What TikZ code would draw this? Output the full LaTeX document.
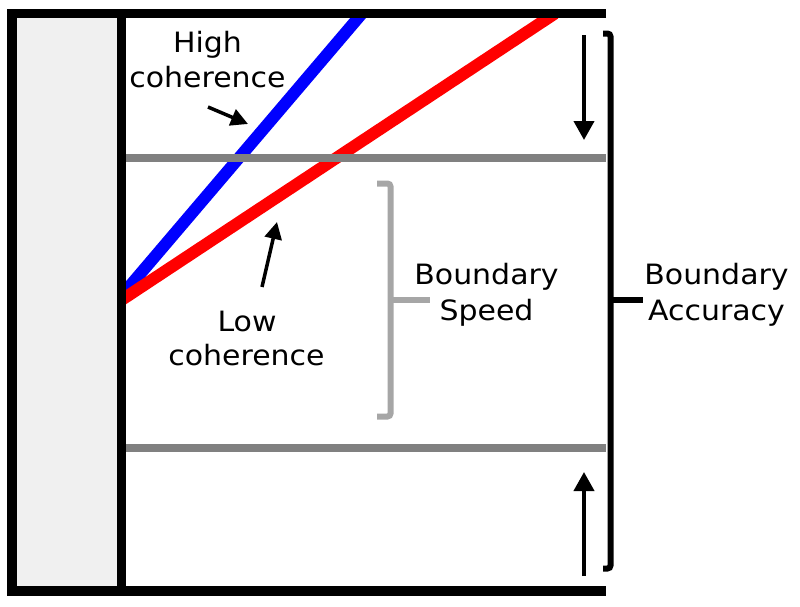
\documentclass[tikz,border=0pt]{standalone}
\usepackage{fontspec}
\setmainfont{DejaVu Sans}[FakeStretch=1.07]
\usetikzlibrary{arrows.meta}
\definecolor{panel}{HTML}{F0F0F0}
\definecolor{boundgray}{HTML}{808080}
\definecolor{brgray}{HTML}{A6A6A6}
\definecolor{hiblue}{HTML}{0000FF}
\definecolor{lored}{HTML}{FF0000}
\begin{document}
\begin{tikzpicture}[x=1pt,y=-1pt,
  frame/.style={line width=9.5pt,black},
  bound/.style={line width=8pt,boundgray},
  trace/.style={line width=12pt},
  lbl/.style={font=\fontsize{28}{35}\selectfont,inner sep=0pt,anchor=base},
  ptr/.style={line width=3.5pt,-{Triangle[length=17pt,width=17pt]}},
  vptr/.style={line width=4pt,-{Triangle[length=19pt,width=20pt]}},
  gbrack/.style={line width=6pt,brgray,rounded corners=3pt},
  bbrack/.style={line width=6pt,black,rounded corners=3pt}]
\fill[white] (0,0) rectangle (800,606);
\useasboundingbox (0,0) rectangle (800,606);
% left panel
\fill[panel] (16,18) rectangle (117,587);
% coherence traces
\coordinate (b0) at (121.5,295.8);
\coordinate (b1) at (361.9,13.5);
\coordinate (r0) at (121.5,300);
\coordinate (r1) at (554.9,13.5);
\begin{scope}
\clip (121.5,14) rectangle (606,586);
\draw[trace,hiblue] (b0) -- (b1);
\draw[trace,lored] (r0) -- (r1);
\end{scope}
% boundaries
\coordinate (ub0) at (126,158);
\coordinate (ub1) at (606,158);
\coordinate (lb0) at (126,447.5);
\coordinate (lb1) at (606,447.5);
\draw[bound] (ub0) -- (ub1);
\draw[bound] (lb0) -- (lb1);
% frame
\draw[frame] (606,13.5) -- (12,13.5) -- (12,591) -- (606,591);
\draw[frame] (121.5,9) -- (121.5,596);
% labels
\node[lbl] (hc1) at (207.5,52) {High};
\node[lbl] (hc2) at (207.5,87) {coherence};
\node[lbl] (lc1) at (247,331) {Low};
\node[lbl] (lc2) at (246.5,365) {coherence};
\node[lbl] (bs1) at (486.5,284) {Boundary};
\node[lbl] (bs2) at (486.5,320.5) {Speed};
\node[lbl] (ba1) at (716.5,284) {Boundary};
\node[lbl] (ba2) at (716.5,320.5) {Accuracy};
% pointer arrows
\coordinate (hpt) at (208,107);
\coordinate (htip) at (248,124);
\coordinate (lpt) at (262,287);
\coordinate (ltip) at (277,222);
\draw[ptr] (hpt) -- (htip);
\draw[ptr] (lpt) -- (ltip);
% vertical arrows
\coordinate (dn0) at (584,35);
\coordinate (dn1) at (584,140);
\coordinate (up0) at (584,576);
\coordinate (up1) at (584,472);
\draw[vptr] (dn0) -- (dn1);
\draw[vptr] (up0) -- (up1);
% brackets
\draw[gbrack] (377,183.5) -- (390.5,183.5) -- (390.5,416.5) -- (377,416.5);
\draw[brgray,line width=6pt] (390.5,300) -- (430,300);
\draw[bbrack] (603,33.5) -- (610.5,33.5) -- (610.5,568.5) -- (603,568.5);
\draw[black,line width=6pt] (610.5,299.5) -- (643,299.5);
\end{tikzpicture}
\end{document}
